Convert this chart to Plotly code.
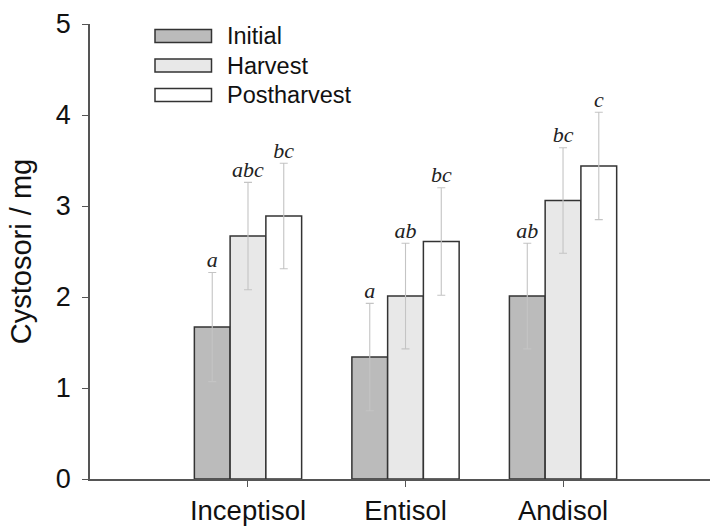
import plotly.graph_objects as go

categories = ["Inceptisol", "Entisol", "Andisol"]
series_names = ["Initial", "Harvest", "Postharvest"]
initial = [1.67, 1.34, 2.01]
harvest = [2.67, 2.01, 3.06]
postharvest = [2.89, 2.61, 3.44]
initial_err = [0.60, 0.59, 0.58]
harvest_err = [0.59, 0.58, 0.58]
postharvest_err = [0.58, 0.59, 0.59]
initial_letters = ["a", "a", "ab"]
harvest_letters = ["abc", "ab", "bc"]
postharvest_letters = ["bc", "bc", "c"]

values = [initial, harvest, postharvest]
errors = [initial_err, harvest_err, postharvest_err]
letters = [initial_letters, harvest_letters, postharvest_letters]
colors = ["#bbbbbb", "#e8e8e8", "#ffffff"]

W, H = 710, 526
ML, MR, MT, MB = 90, 0, 24, 47
PW, PH = W - ML - MR, H - MT - MB

bar_w = 0.227
xs = list(range(len(categories)))

fig = go.Figure()
for j, name in enumerate(series_names):
    off = (j - 1) * bar_w
    fig.add_trace(go.Bar(
        x=xs, y=values[j], name=name, width=bar_w, offset=off - bar_w / 2,
        marker=dict(color=colors[j], line=dict(color="#333333", width=1.5)),
        error_y=dict(type="data", array=errors[j], visible=True,
                     color="#c4c4c4", thickness=1.1, width=4),
        showlegend=False,
    ))
    fig.add_trace(go.Scatter(
        x=[x + off for x in xs],
        y=[v + e for v, e in zip(values[j], errors[j])],
        mode="text", text=letters[j], textposition="top center",
        textfont=dict(family="Liberation Serif", size=22, color="#222222", style="italic"),
        showlegend=False, hoverinfo="skip",
    ))

# custom legend (wide rectangles)
leg_y = [36, 65.5, 95]
for j, name in enumerate(series_names):
    fig.add_shape(type="rect", xref="paper", yref="paper",
                  x0=(155 - ML) / PW, x1=(211.5 - ML) / PW,
                  y0=(H - MB - (leg_y[j] + 6.5)) / PH,
                  y1=(H - MB - (leg_y[j] - 6.5)) / PH,
                  fillcolor=colors[j], line=dict(color="#333333", width=1.5))
    fig.add_annotation(xref="paper", yref="paper",
                       x=(225 - ML) / PW,
                       y=(H - MB - leg_y[j]) / PH,
                       text=name, showarrow=False, xanchor="left", yanchor="middle",
                       font=dict(family="Liberation Sans", size=23.5, color="#111111"))

fig.update_layout(
    width=W, height=H,
    margin=dict(l=ML, r=MR, t=MT, b=MB, autoexpand=False),
    plot_bgcolor="white", paper_bgcolor="white",
    barmode="overlay",
    font=dict(family="Liberation Sans", color="#111111"),
)
fig.update_xaxes(
    range=[-1.003, 2.933], tickmode="array", tickvals=xs, ticktext=categories,
    showline=True, linecolor="#555555", linewidth=1.5, ticks="outside",
    ticklen=6, tickcolor="#555555", tickfont=dict(size=27.5), showgrid=False,
    zeroline=False, ticklabelstandoff=0, automargin=False,
)
fig.update_yaxes(
    range=[0, 5], tickvals=[0, 1, 2, 3, 4, 5], showline=True, linecolor="#555555",
    linewidth=1.5, ticks="outside", ticklen=6, tickcolor="#555555",
    tickfont=dict(size=27), showgrid=False, zeroline=False, automargin=False,
    ticklabelstandoff=6,
    title=dict(text="Cystosori / mg", font=dict(size=29), standoff=16),
)

fig.write_html(
    "out.html",
    config={"displayModeBar": False},
    post_script="document.body.style.margin='0px';document.body.style.overflow='hidden';",
)
